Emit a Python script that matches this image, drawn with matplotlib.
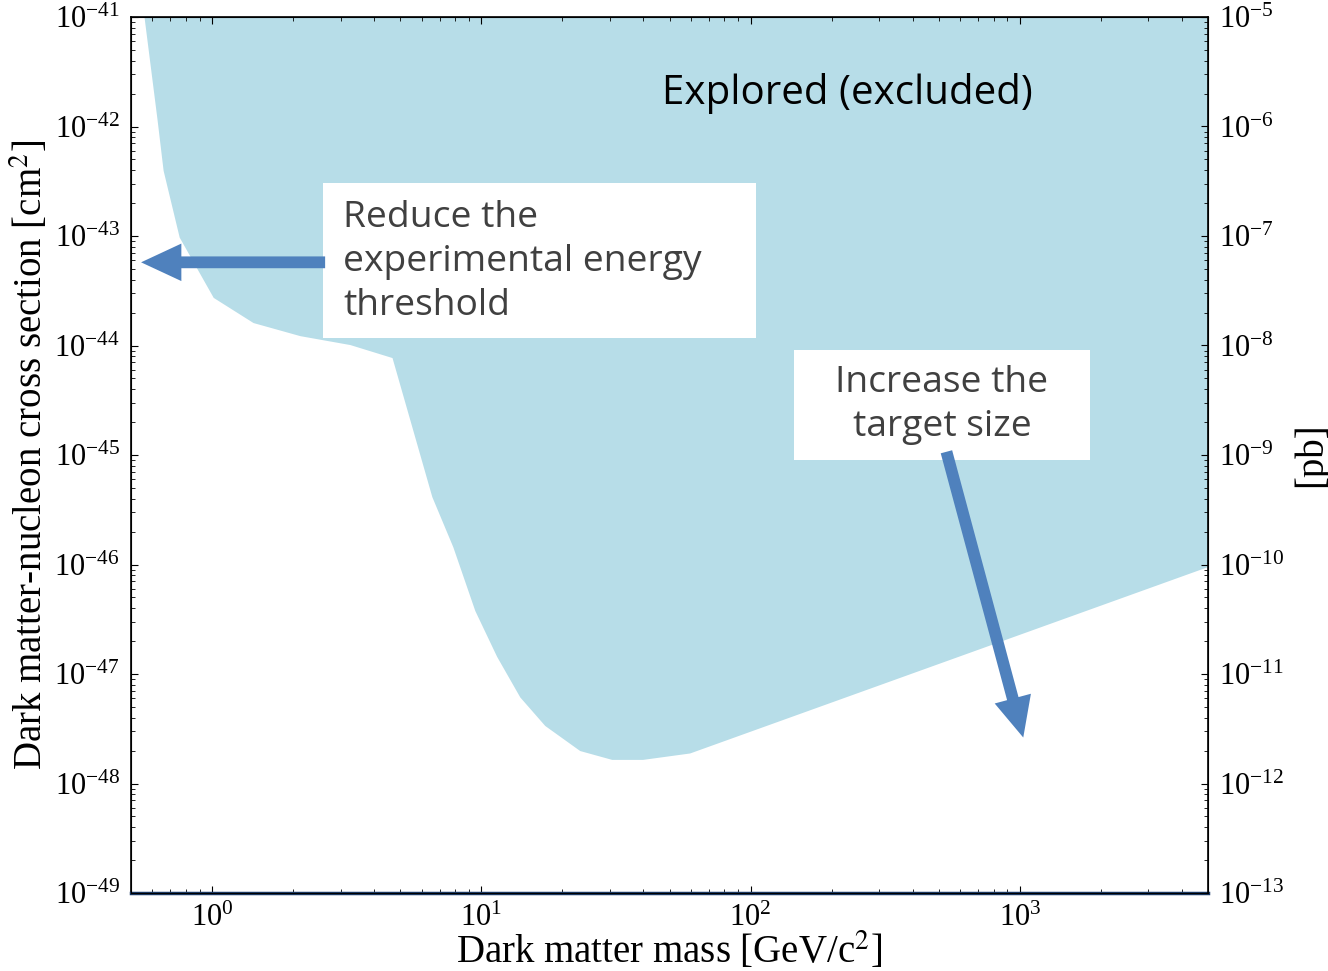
import matplotlib.pyplot as plt
import numpy as np
from matplotlib.patches import Rectangle
from matplotlib.ticker import LogLocator, NullFormatter

plt.rcParams['mathtext.fontset'] = 'stix'
plt.rcParams['font.family'] = ['Liberation Serif', 'DejaVu Serif']

# lower edge of the explored region
mass = [0.559, 0.625, 0.658, 0.755, 1.01, 1.42, 2.12, 3.25, 4.66, 6.55,
        7.84, 9.46, 11.4, 13.9, 17.2, 23.2, 30.5, 39.7, 59.4, 5000]
sigma = [1.0e-41, 1.15e-42, 3.98e-43, 9.77e-44, 2.75e-44, 1.62e-44, 1.23e-44,
         1.02e-44, 7.76e-45, 4.17e-46, 1.45e-46, 3.80e-47, 1.45e-47, 6.17e-48,
         3.39e-48, 2.0e-48, 1.66e-48, 1.66e-48, 1.9e-48, 9.6e-47]

# decade ticks of both y axes (cm^2 on the left, pb on the right)
left_ticks = [1e-49, 1e-48, 1e-47, 1e-46, 1e-45, 1e-44, 1e-43, 1e-42, 1e-41]
right_ticks = [1e-13, 1e-12, 1e-11, 1e-10, 1e-9, 1e-8, 1e-7, 1e-6, 1e-5]
x_ticks = [1, 10, 100, 1000]

fill_col = '#b7dde8'
arrow_col = '#4f81bd'
box_font = 'Open Sans'

fig = plt.figure(figsize=(13.28, 9.71), dpi=100)
ax = fig.add_axes([131/1328, 78/971, 1077/1328, 876/971])

ax.fill_between(mass, sigma, 1e-41, color=fill_col, lw=0, zorder=1)

ax.set_xscale('log')
ax.set_yscale('log')
ax.set_xlim(0.5, 5000)
ax.set_ylim(1e-49, 1e-41)
ax.set_xticks(x_ticks)
ax.set_yticks(left_ticks)
ax.yaxis.set_minor_locator(LogLocator(base=10, subs=np.arange(2, 10), numticks=20))
ax.yaxis.set_minor_formatter(NullFormatter())
ax.xaxis.set_minor_formatter(NullFormatter())
ax.tick_params(which='both', direction='in', top=True, right=False, labelsize=22, pad=8)
ax.tick_params(which='major', length=5)
ax.tick_params(which='minor', length=3)

ax.set_xlabel('Dark matter mass [GeV/c$^2$]', fontsize=28, labelpad=-2)
ax.set_ylabel('Dark matter-nucleon cross section [cm$^2$]', fontsize=28, labelpad=2)

for s in ['left', 'top']:
    ax.spines[s].set_linewidth(1.2)
ax.spines['bottom'].set_color('#1b3a66')
ax.spines['bottom'].set_linewidth(2.5)

ax2 = ax.twinx()
ax2.set_yscale('log')
ax2.set_ylim(1e-13, 1e-5)
ax2.set_yticks(right_ticks)
ax2.yaxis.set_minor_locator(LogLocator(base=10, subs=np.arange(2, 10), numticks=20))
ax2.yaxis.set_minor_formatter(NullFormatter())
ax2.tick_params(which='both', direction='in', labelsize=22, pad=8)
ax2.tick_params(which='major', length=5)
ax2.tick_params(which='minor', length=3)
ax2.set_ylabel('[pb]', fontsize=28, rotation=90, labelpad=6)
ax2.spines['right'].set_linewidth(1.2)

# text boxes
ax.add_patch(Rectangle((0.1783, 0.6336), 0.402, 0.1769, transform=ax.transAxes,
                       fc='white', ec='none', zorder=3))
ax.text(0.1969, 0.720, 'Reduce the\nexperimental energy\nthreshold',
        transform=ax.transAxes, family=box_font, fontsize=26.8, color='#404040',
        ha='left', va='center', linespacing=1.3, zorder=4)

ax.add_patch(Rectangle((0.6156, 0.4943), 0.2748, 0.1256, transform=ax.transAxes,
                       fc='white', ec='none', zorder=3))
ax.text(0.7530, 0.557, 'Increase the\ntarget size',
        transform=ax.transAxes, family=box_font, fontsize=26.8, color='#404040',
        ha='center', va='center', linespacing=1.3, zorder=4)

ax.text(0.6653, 0.9125, 'Explored (excluded)', transform=ax.transAxes,
        family='Open Sans', fontsize=29, color='black', ha='center', va='center', zorder=4)

# arrows
arrow_kw = dict(facecolor=arrow_col, edgecolor='none', width=8.5,
                headwidth=27, headlength=29, shrink=0)
ax.annotate('', xy=(0.545, 5.75e-44), xytext=(2.63, 5.75e-44),
            arrowprops=arrow_kw, zorder=5)
ax.annotate('', xy=(1030, 2.63e-48), xytext=(534, 1.07e-45),
            arrowprops=arrow_kw, zorder=5)

fig.savefig('out.png', dpi=100)
